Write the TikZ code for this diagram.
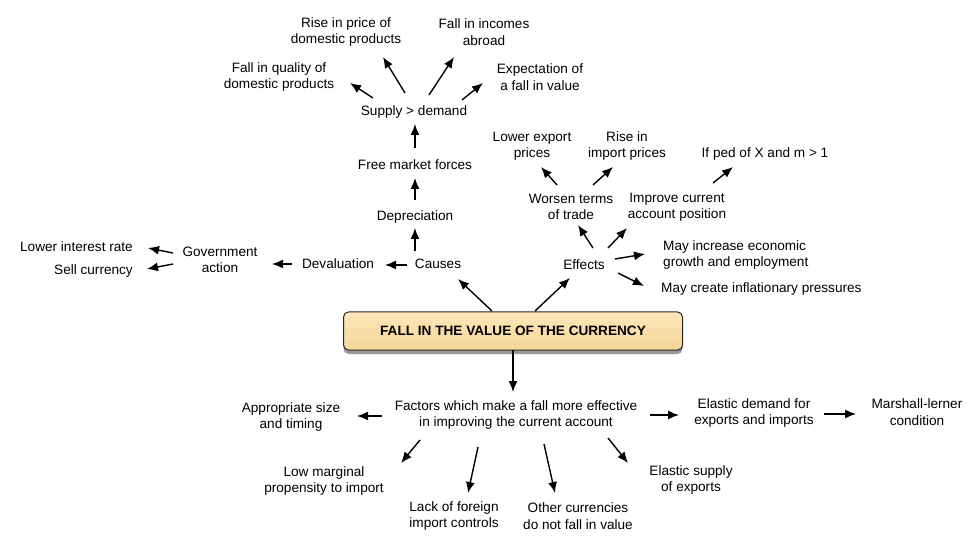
\documentclass[tikz,border=0pt]{standalone}
\usepackage{fontspec}
\setmainfont{Liberation Sans}
\usetikzlibrary{arrows.meta,shadows}
\definecolor{boxtop}{RGB}{252,230,186}
\definecolor{boxbot}{RGB}{246,214,152}
\begin{document}
\begin{tikzpicture}[x=1pt,y=-1pt,
  txt/.style={font=\fontsize{13.6}{16.5}\selectfont, align=center, inner sep=0pt},
  arr/.style={line width=1.4pt, -{Latex[length=11pt,width=9pt]}},
  mainbox/.style={draw=black!85, line width=1pt, rounded corners=5pt,
     top color=boxtop, bottom color=boxbot, minimum width=339pt, minimum height=38pt,
     font=\fontsize{13.6}{16}\selectfont\bfseries,
     drop shadow={shadow xshift=0pt, shadow yshift=-4pt, opacity=0.4, fill=black}}]
\useasboundingbox (0,0) rectangle (980,545);
\fill[white] (0,0) rectangle (980,545);

% top branch
\node[txt] (rise) at (346,32) {Rise in price of\\domestic products};
\node[txt] (inc) at (484,32) {Fall in incomes\\abroad};
\node[txt] (qual) at (279,77) {Fall in quality of\\domestic products};
\node[txt] (expt) at (540,77) {Expectation of\\a fall in value};
\node[txt] (sd) at (414,112) {Supply > demand};
\node[txt] (fmf) at (415,165) {Free market forces};
\node[txt] (dep) at (415,217) {Depreciation};
\node[txt] (causes) at (438,264) {Causes};
\node[txt] (deval) at (338,264) {Devaluation};
\node[txt] (gov) at (220,260) {Government\\action};
\node[txt, anchor=east] (lir) at (133,247) {Lower interest rate};
\node[txt, anchor=east] (sell) at (133,271) {Sell currency};

% effects
\node[txt] (lep) at (532,146) {Lower export\\prices};
\node[txt] (rip) at (627,146) {Rise in\\import prices};
\node[txt] (ped) at (765,154) {If ped of X and m > 1};
\node[txt] (wtt) at (571,207) {Worsen terms\\of trade};
\node[txt] (ica) at (677,207) {Improve current\\account position};
\node[txt] (eff) at (584,265) {Effects};
\node[txt, anchor=west, align=left] (mig) at (663,255) {May increase economic\\growth and employment};
\node[txt, anchor=west] (mci) at (661,289) {May create inflationary pressures};

% main
\node[mainbox] (main) at (513,331) {FALL IN THE VALUE OF THE CURRENCY};

% factors
\node[txt] (fac) at (516,415) {Factors which make a fall more effective\\in improving the current account};
\node[txt] (ast) at (291,417) {Appropriate size\\and timing};
\node[txt] (edm) at (754,413) {Elastic demand for\\exports and imports};
\node[txt] (ml) at (917,412) {Marshall-lerner\\condition};
\node[txt] (lmp) at (324,481) {Low marginal\\propensity to import};
\node[txt] (lfi) at (454,516) {Lack of foreign\\import controls};
\node[txt] (ocf) at (578,516) {Other currencies\\do not fall in value};
\node[txt] (esx) at (691,480) {Elastic supply\\of exports};

% arrows: top
\draw[arr] ([shift={(-41,-14)}]sd.center) -- ([shift={(71,6)}]qual.center);
\draw[arr] ([shift={(-9,-19)}]sd.center) -- ([shift={(37,25)}]rise.center);
\draw[arr] ([shift={(15,-17)}]sd.center) -- ([shift={(-30,25)}]inc.center);
\draw[arr] ([shift={(48,-12)}]sd.center) -- ([shift={(-57,6)}]expt.center);
\draw[arr] ([shift={(0,-17)}]fmf.center) -- ([shift={(1,12)}]sd.center);
\draw[arr] ([shift={(0,-17)}]dep.center) -- ([shift={(0,13)}]fmf.center);
\draw[arr] ([shift={(-23,-13)}]causes.center) -- ([shift={(0,11)}]dep.center);
\draw[arr] ([shift={(-31,1)}]causes.center) -- ([shift={(47,1)}]deval.center);
\draw[arr] ([shift={(-46,0)}]deval.center) -- ([shift={(52,4)}]gov.center);
\draw[arr] ([shift={(-47,-7)}]gov.center) -- ([shift={(15,1)}]lir.east);
\draw[arr] ([shift={(-47,4)}]gov.center) -- ([shift={(14,-2)}]sell.east);

% arrows: main
\draw[arr] ([shift={(-21,-20)}]main.center) -- ([shift={(20,15)}]causes.center);
\draw[arr] ([shift={(22,-20)}]main.center) -- ([shift={(-14,13)}]eff.center);
\draw[arr] ([shift={(0,19)}]main.center) -- ([shift={(-3,-23)}]fac.center);

% arrows: effects
\draw[arr] ([shift={(9,-17)}]eff.center) -- ([shift={(7,18)}]wtt.center);
\draw[arr] ([shift={(24,-17)}]eff.center) -- ([shift={(-50,21)}]ica.center);
\draw[arr] ([shift={(31,-6)}]eff.center) -- ([shift={(-18,-1)}]mig.west);
\draw[arr] ([shift={(34,8)}]eff.center) -- ([shift={(-17,-3)}]mci.west);
\draw[arr] ([shift={(-14,-22)}]wtt.center) -- ([shift={(9,21)}]lep.center);
\draw[arr] ([shift={(22,-22)}]wtt.center) -- ([shift={(-14,21)}]rip.center);
\draw[arr] ([shift={(36,-24)}]ica.center) -- ([shift={(-32,13)}]ped.center);

% arrows: factors
\draw[arr] ([shift={(-134,1)}]fac.center) -- ([shift={(66,-1)}]ast.center);
\draw[arr] ([shift={(134,0)}]fac.center) -- ([shift={(-75,2)}]edm.center);
\draw[arr] ([shift={(70,1)}]edm.center) -- ([shift={(-61,2)}]ml.center);
\draw[arr] ([shift={(-96,25)}]fac.center) -- ([shift={(77,-18)}]lmp.center);
\draw[arr] ([shift={(-38,32)}]fac.center) -- ([shift={(14,-23)}]lfi.center);
\draw[arr] ([shift={(28,29)}]fac.center) -- ([shift={(-23,-23)}]ocf.center);
\draw[arr] ([shift={(92,23)}]fac.center) -- ([shift={(-63,-17)}]esx.center);
\end{tikzpicture}
\end{document}
